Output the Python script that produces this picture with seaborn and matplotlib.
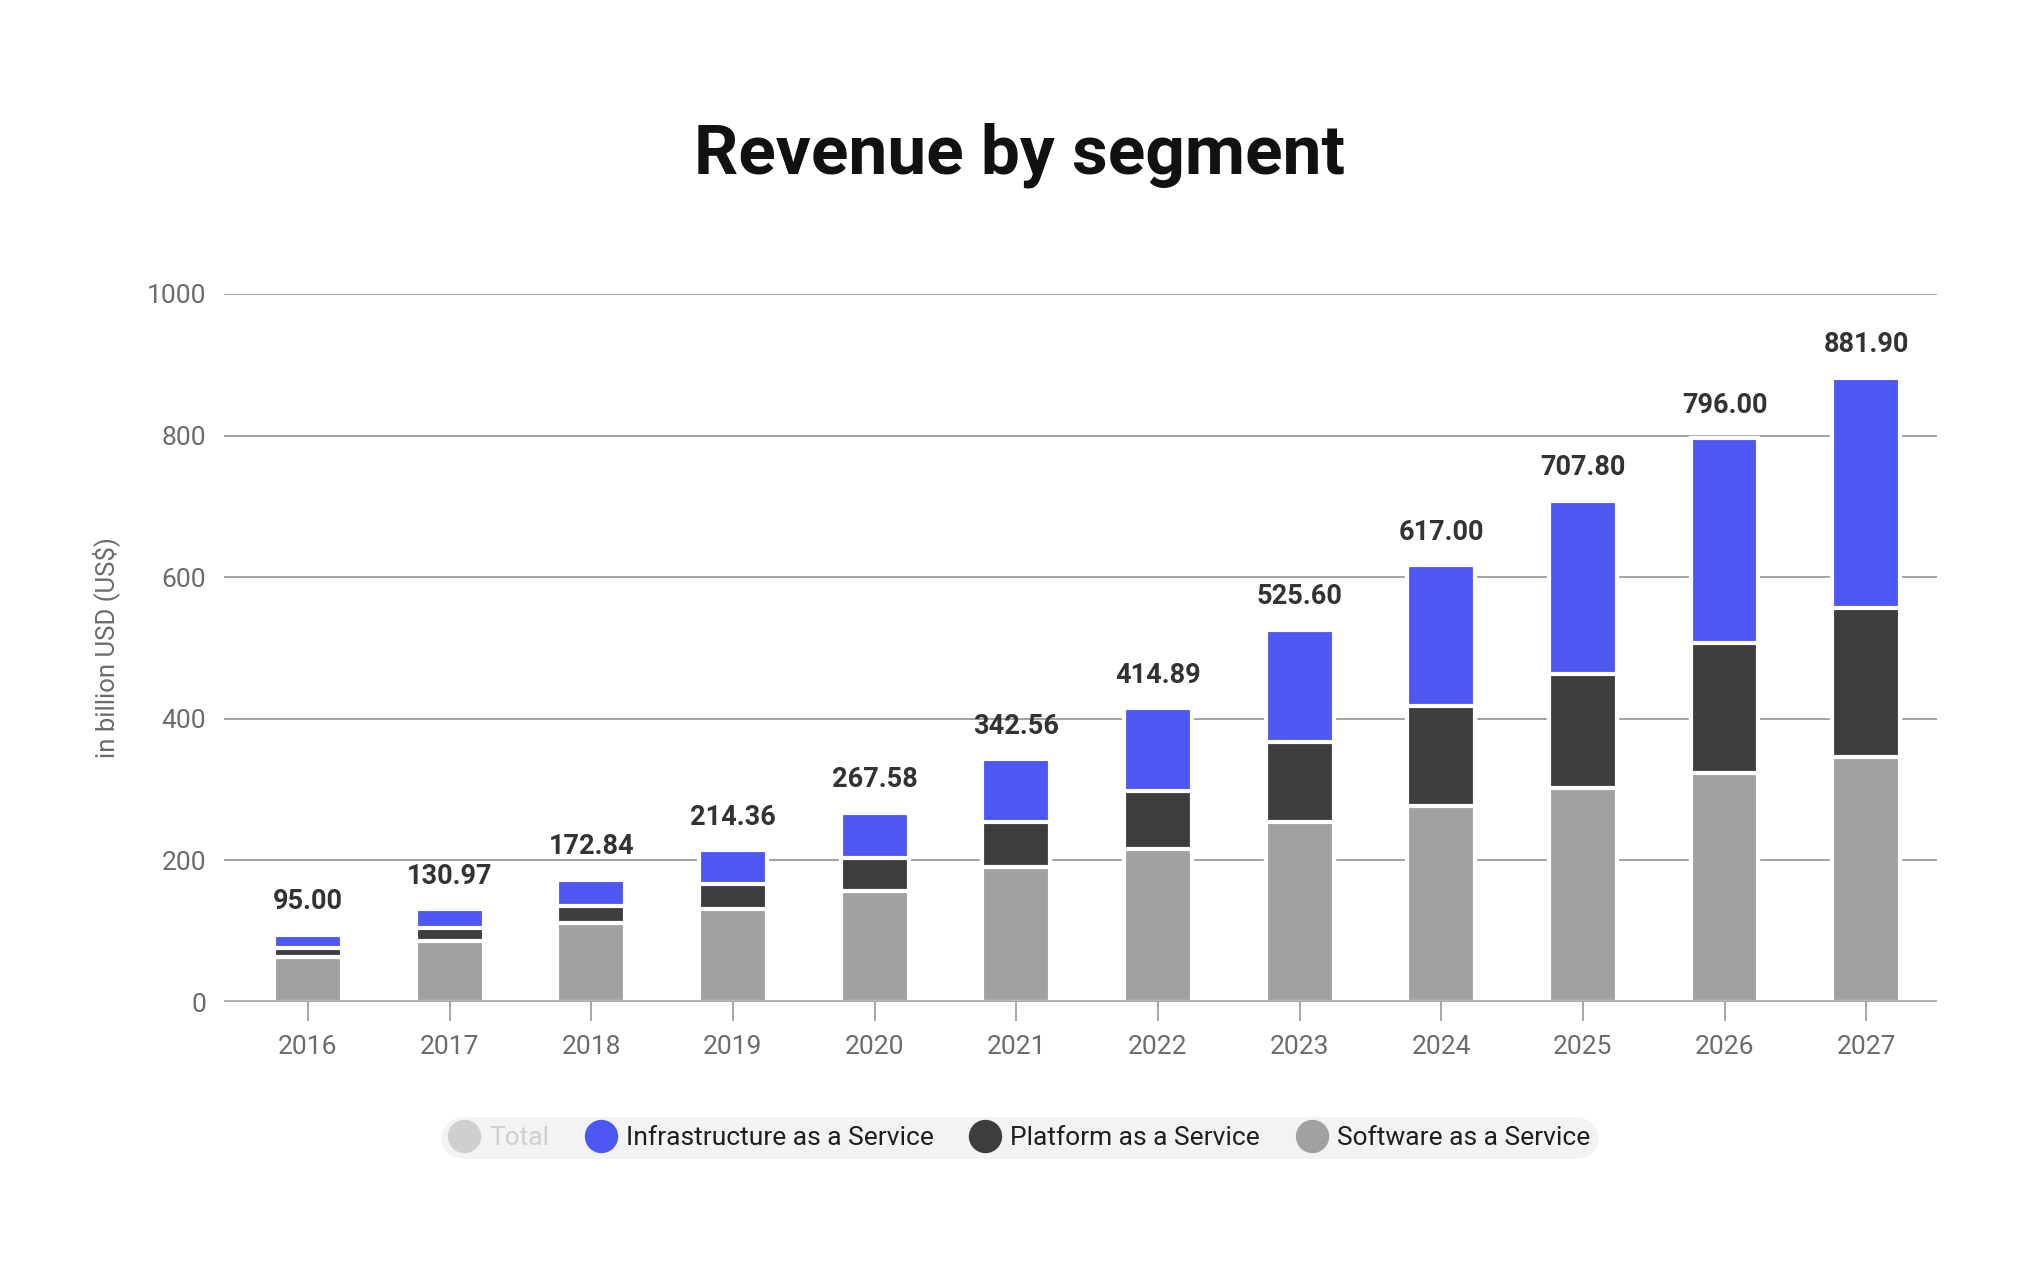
import matplotlib
matplotlib.use("Agg")
import matplotlib.pyplot as plt
from matplotlib.lines import Line2D
import seaborn as sns
import pandas as pd

# ---- data ----
years = ["2016", "2017", "2018", "2019", "2020", "2021", "2022", "2023", "2024", "2025", "2026", "2027"]
saas = [63.8, 86.5, 112.0, 132.0, 157.0, 191.0, 215.5, 254.0, 277.0, 302.0, 323.0, 346.0]
paas = [12.9, 18.5, 23.0, 35.0, 46.0, 63.4, 82.7, 113.6, 141.5, 161.0, 183.5, 210.0]
iaas = [18.3, 26.0, 37.8, 47.4, 64.6, 88.2, 116.7, 158.0, 198.5, 244.8, 289.5, 325.9]
totals = [95.00, 130.97, 172.84, 214.36, 267.58, 342.56, 414.89, 525.60, 617.00, 707.80, 796.00, 881.90]
yticks = [0, 200, 400, 600, 800, 1000]
legend_labels = ["Total", "Infrastructure as a Service", "Platform as a Service", "Software as a Service"]

BLUE = "#4d57f1"
DARK = "#3c3e3e"
GRAY = "#a1a1a1"
TOTAL_C = "#cfcfcf"

sns.set_theme(style="white")
plt.rcParams["font.family"] = ["Roboto", "DejaVu Sans"]

df = pd.DataFrame({"year": years, "saas": saas, "paas": paas, "iaas": iaas})
df["stack_paas"] = df["saas"] + df["paas"]
df["stack_iaas"] = df["stack_paas"] + df["iaas"]

fig = plt.figure(figsize=(20.4, 12.65), dpi=100)
ax = fig.add_axes([0.110, 0.2079, 0.8395, 0.5597])

common = dict(x="year", width=0.48, edgecolor="white", linewidth=3.0,
              saturation=1, errorbar=None, ax=ax, zorder=3)
sns.barplot(data=df, y="stack_iaas", color=BLUE, **common)
sns.barplot(data=df, y="stack_paas", color=DARK, **common)
sns.barplot(data=df, y="saas", color=GRAY, **common)

# value labels
for i, t in enumerate(totals):
    ax.annotate(f"{t:.2f}", (i, t), xytext=(0, 14), textcoords="offset points",
                ha="center", va="bottom", fontsize=19.5, fontweight="bold", color="#333333")

ax.set_ylim(0, 1000)
ax.set_xlim(-0.59, 11.5)
ax.set_yticks(yticks)
ax.set_yticklabels([str(v) for v in yticks])
ax.yaxis.grid(True, color="#9c9c9c", linewidth=1.3)
ax.set_axisbelow(True)
ax.axhline(0, color="#a8a8a8", linewidth=2.6, zorder=6)
for s in ax.spines.values():
    s.set_visible(False)

ax.tick_params(axis="y", length=0, pad=13, labelsize=19, labelcolor="#6b6b6b")
ax.tick_params(axis="x", length=14, width=1.3, color="#a0a0a0", pad=10,
               labelsize=19, labelcolor="#6b6b6b", bottom=True)
ax.set_xlabel("")
ax.set_ylabel("in billion USD (US$)", fontsize=18.5, color="#6b6b6b")
ax.yaxis.set_label_coords(-0.061, 0.5)

fig.text(0.5, 0.877, "Revenue by segment", ha="center", va="center",
         fontsize=50, fontweight="bold", color="#111111")

handles = [Line2D([], [], marker="o", ls="", markersize=23,
                  markerfacecolor=c, markeredgecolor=c)
           for c in [TOTAL_C, BLUE, DARK, GRAY]]
leg = fig.legend(handles, legend_labels, loc="center", bbox_to_anchor=(0.5, 0.1004),
                 ncol=4, frameon=True, facecolor="#f2f3f4", edgecolor="none",
                 fontsize=19, handletextpad=0.4, columnspacing=1.4,
                 borderpad=0.35, handlelength=1.1, framealpha=1)
leg.get_frame().set_boxstyle("round,pad=0.0,rounding_size=1.0")
for txt in leg.get_texts():
    txt.set_color("#1e1e1e")
leg.get_texts()[0].set_color("#cfcfcf")

fig.savefig("out.png", dpi=100, facecolor="white")
